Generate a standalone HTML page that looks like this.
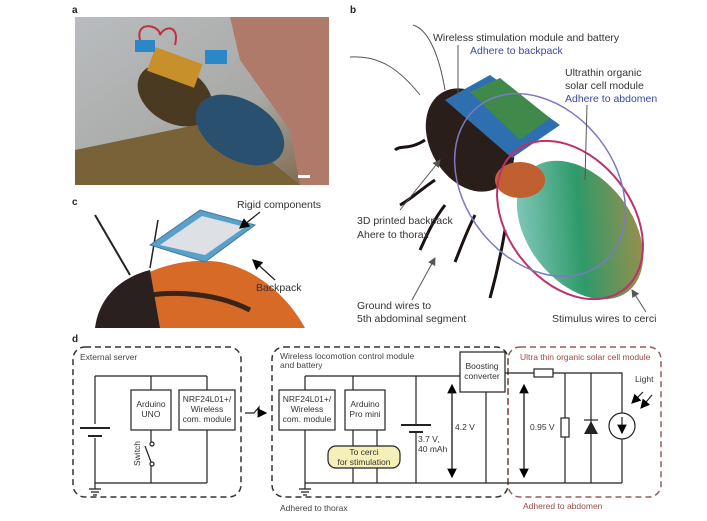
<!DOCTYPE html>
<html><head><meta charset="utf-8"><style>
body{margin:0;background:#fff;width:707px;height:521px;overflow:hidden}
svg{display:block;font-family:"Liberation Sans",sans-serif}
</style></head><body>
<svg width="707" height="521" viewBox="0 0 707 521">
<defs>
<linearGradient id="ga" x1="0" y1="0" x2="1" y2="1"><stop offset="0" stop-color="#b9bcbf"/><stop offset="0.6" stop-color="#a8a9a6"/><stop offset="1" stop-color="#7a6040"/></linearGradient>
<linearGradient id="abd" x1="0" y1="0" x2="1" y2="1"><stop offset="0" stop-color="#9fd8d8"/><stop offset="0.5" stop-color="#2f9a6a"/><stop offset="1" stop-color="#c08a40"/></linearGradient>
<marker id="ah" markerWidth="8" markerHeight="8" refX="7" refY="4" orient="auto"><path d="M0,0 L8,4 L0,8 z" fill="#000"/></marker>
<marker id="ag" markerWidth="8" markerHeight="8" refX="7" refY="4" orient="auto"><path d="M0,0 L8,4 L0,8 z" fill="#555"/></marker>
</defs>
<g font-size="10" fill="#222" font-weight="bold"><text x="72" y="13">a</text><text x="350" y="13">b</text><text x="72" y="205">c</text><text x="72" y="342">d</text></g>
<rect x="75" y="17" width="254" height="168" fill="url(#ga)"/>
<polygon points="230,17 329,17 329,185 300,185 290,130 240,60" fill="#b07a6a"/>
<polygon points="75,150 220,120 300,185 75,185" fill="#7a6238"/>
<ellipse cx="175" cy="95" rx="40" ry="28" fill="#4a3a22" transform="rotate(30 175 95)"/>
<ellipse cx="240" cy="130" rx="48" ry="30" fill="#2a5070" transform="rotate(30 240 130)"/>
<rect x="150" y="55" width="50" height="25" fill="#c8902a" transform="rotate(20 175 67)"/>
<rect x="135" y="40" width="20" height="12" fill="#2a88c8"/><rect x="205" y="50" width="22" height="14" fill="#2a88c8"/>
<path d="M140,40 C135,20 160,25 160,35 C165,25 180,25 175,45" stroke="#c03040" stroke-width="2" fill="none"/>
<rect x="298" y="175" width="12" height="3" fill="#fff"/>
<path d="M95,328 C110,280 170,255 220,262 C260,270 290,300 305,328 Z" fill="#d86a28"/>
<path d="M130,300 C160,290 210,290 250,310" stroke="#3a2418" stroke-width="5" fill="none"/>
<path d="M95,328 C100,290 130,275 150,270 L160,328 Z" fill="#2a2020"/>
<line x1="95" y1="215" x2="130" y2="275" stroke="#222" stroke-width="2"/>
<line x1="158" y1="220" x2="150" y2="268" stroke="#222" stroke-width="1.5"/>
<polygon points="150,245 200,210 255,225 205,262" fill="#5aa0c8" stroke="#3a7aa0"/>
<polygon points="160,245 202,216 245,227 205,255" fill="#dde0e4"/>
<g font-size="10.5" fill="#333"><text x="237" y="208">Rigid components</text><text x="256" y="291">Backpack</text></g>
<line x1="260" y1="212" x2="240" y2="228" stroke="#222" stroke-width="1.3" marker-end="url(#ah)"/>
<line x1="275" y1="280" x2="253" y2="260" stroke="#222" stroke-width="1.3" marker-end="url(#ah)"/>
<path d="M350,57 C380,55 400,70 420,95" stroke="#555" fill="none"/>
<path d="M413,25 C430,30 440,60 445,90" stroke="#555" fill="none"/>
<path d="M425,140 C410,150 400,145 395,150 M435,180 C420,190 410,200 400,205 M445,205 C430,225 425,240 420,250 M475,215 C465,235 460,250 455,262 M505,230 C500,260 495,280 490,298" stroke="#1a1212" stroke-width="3" fill="none"/>
<ellipse cx="470" cy="140" rx="40" ry="55" fill="#2a1e1a" transform="rotate(-30 470 140)"/>
<ellipse cx="580" cy="230" rx="52" ry="78" fill="url(#abd)" transform="rotate(-38 580 230)"/>
<ellipse cx="520" cy="180" rx="25" ry="18" fill="#c06030"/>
<polygon points="445,100 490,75 560,125 512,158" fill="#2e6fb0"/>
<polygon points="470,92 500,78 550,118 520,140" fill="#3f8a4a"/>
<ellipse cx="570" cy="220" rx="62" ry="88" fill="none" stroke="#c0306a" stroke-width="2" transform="rotate(-38 570 220)"/>
<ellipse cx="540" cy="185" rx="75" ry="100" fill="none" stroke="#7a7ac0" stroke-width="1.5" transform="rotate(-38 540 185)"/>
<g font-size="10.5" fill="#333">
<text x="433" y="41">Wireless stimulation module and battery</text>
<text x="470" y="54" fill="#3a4aa0">Adhere to backpack</text>
<text x="565" y="76">Ultrathin organic</text><text x="565" y="89">solar cell module</text>
<text x="565" y="102" fill="#3a4aa0">Adhere to abdomen</text>
<text x="357" y="224">3D printed backpack</text><text x="357" y="238">Ahere to thorax</text>
<text x="357" y="309">Ground wires to</text><text x="357" y="322">5th abdominal segment</text>
<text x="552" y="322">Stimulus wires to cerci</text></g>
<g stroke="#555" stroke-width="1"><line x1="458" y1="45" x2="458" y2="95"/><line x1="587" y1="105" x2="585" y2="180"/>
<line x1="400" y1="210" x2="440" y2="160" marker-end="url(#ag)"/><line x1="412" y1="300" x2="435" y2="258" marker-end="url(#ag)"/>
<line x1="646" y1="312" x2="632" y2="290" marker-end="url(#ag)"/></g>
<g fill="none" stroke="#333" stroke-width="1.5" stroke-dasharray="6,4">
<rect x="73" y="347" width="168" height="150" rx="12"/>
<rect x="272" y="347" width="236" height="150" rx="12"/>
<rect x="508" y="347" width="153" height="150" rx="12" stroke="#9a5a5a"/></g>
<g font-size="8.5" fill="#444"><text x="80" y="360">External server</text>
<text x="280" y="359">Wireless locomotion control module</text><text x="280" y="368">and battery</text>
<text x="280" y="511">Adhered to thorax</text></g>
<g font-size="8.5" fill="#9a4a4a"><text x="520" y="360">Ultra thin organic solar cell module</text><text x="523" y="509">Adhered to abdomen</text></g>
<g fill="none" stroke="#222" stroke-width="1.2">
<path d="M95,376 H207 M95,376 V424 M95,438 V483 H207 M151,376 V390 M151,430 V442 M151,466 V483 M207,376 V390 M207,430 V483"/>
<path d="M80,428 H110 M88,436 H102" stroke-width="2"/>
<path d="M89,489 H101 M91,492 H99 M93,495 H97 M95,483 V489"/>
<rect x="131" y="390" width="40" height="40"/><rect x="179" y="390" width="56" height="40"/>
<circle cx="152" cy="444" r="2"/><circle cx="152" cy="464" r="2"/><path d="M151,462 L145,446"/>
<path d="M245,413 H254 L259,407 V413 H266" marker-end="url(#ah)"/>
<path d="M305,376 H460 M305,376 V390 M305,430 V483 M353,376 V390 M353,430 V446 M353,468 V483 M377,430 V446 M377,468 V483 M305,483 H622 M416,376 V424 M416,432 V483 M486,392 V483 M505,373 H534 M553,373 H622 V413 M622,439 V483 M565,373 V418 M565,437 V483 M591,373 V483"/>
<path d="M299,489 H311 M301,492 H309 M303,495 H307 M305,483 V489"/>
<path d="M401,425 H431 M409,432 H423" stroke-width="2"/>
<rect x="279" y="390" width="56" height="40"/><rect x="345" y="390" width="40" height="40"/>
<rect x="460" y="352" width="45" height="40"/>
<line x1="452" y1="470" x2="452" y2="385" marker-end="url(#ah)"/><line x1="452" y1="390" x2="452" y2="477" marker-end="url(#ah)"/>
<line x1="524" y1="470" x2="524" y2="385" marker-end="url(#ah)"/><line x1="524" y1="390" x2="524" y2="477" marker-end="url(#ah)"/>
<rect x="534" y="369" width="19" height="8" fill="#fff"/><rect x="561" y="418" width="8" height="19" fill="#fff"/>
<circle cx="622" cy="426" r="13" fill="#fff"/><line x1="622" y1="417" x2="622" y2="433" marker-end="url(#ah)"/>
<line x1="643" y1="392" x2="632" y2="403" marker-end="url(#ah)"/><line x1="652" y1="395" x2="641" y2="408" marker-end="url(#ah)"/>
<path d="M584,420 H598"/></g>
<polygon points="584,434 598,434 591,421" fill="#222"/>
<rect x="328" y="446" width="72" height="22" rx="8" fill="#f6f0b8" stroke="#222" stroke-width="1.2"/>
<g font-size="8.5" fill="#333" text-anchor="middle">
<text x="151" y="407">Arduino</text><text x="151" y="417">UNO</text>
<text x="207" y="402">NRF24L01+/</text><text x="207" y="412">Wireless</text><text x="207" y="422">com. module</text>
<text x="307" y="402">NRF24L01+/</text><text x="307" y="412">Wireless</text><text x="307" y="422">com. module</text>
<text x="365" y="407">Arduino</text><text x="365" y="417">Pro mini</text>
<text x="364" y="455">To cerci</text><text x="364" y="465">for stimulation</text>
<text x="482" y="369">Boosting</text><text x="482" y="379">converter</text></g>
<g font-size="8.5" fill="#333"><text x="455" y="430">4.2 V</text><text x="530" y="430">0.95 V</text>
<text x="418" y="442">3.7 V,</text><text x="418" y="452">40 mAh</text><text x="635" y="382">Light</text>
<text transform="translate(140,466) rotate(-90)">Switch</text></g>
</svg>
</body></html>
